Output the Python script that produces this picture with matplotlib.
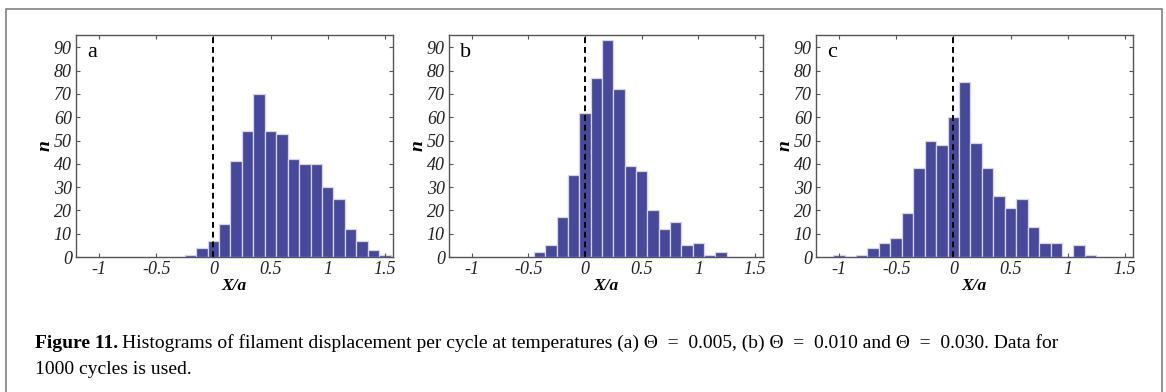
import numpy as np
import matplotlib
matplotlib.use("Agg")
import matplotlib.pyplot as plt
from matplotlib.patches import Rectangle

# bin centres (X/a) and counts
centres_a = [-0.2, -0.1, 0.0, 0.1, 0.2, 0.3, 0.4, 0.5, 0.6, 0.7, 0.8, 0.9,
             1.0, 1.1, 1.2, 1.3, 1.4, 1.5]
counts_a = [1, 4, 7, 14, 41, 54, 70, 54, 53, 42, 40, 40, 30, 25, 12, 7, 3, 1]

centres_b = [-0.4, -0.3, -0.2, -0.1, 0.0, 0.1, 0.2, 0.3, 0.4, 0.5, 0.6, 0.7,
             0.8, 0.9, 1.0, 1.1, 1.2]
counts_b = [2, 5, 17, 35, 62, 77, 93, 72, 39, 37, 20, 12, 15, 5, 6, 1, 2]

centres_c = [-1.0, -0.9, -0.8, -0.7, -0.6, -0.5, -0.4, -0.3, -0.2, -0.1, 0.0,
             0.1, 0.2, 0.3, 0.4, 0.5, 0.6, 0.7, 0.8, 0.9, 1.0, 1.1, 1.2]
counts_c = [1, 0, 1, 4, 6, 8, 19, 38, 50, 48, 60, 75, 49, 38, 26, 21, 25, 13,
            6, 6, 0, 5, 1]

labels = ["a", "b", "c"]
xticks = [-1, -0.5, 0, 0.5, 1, 1.5]
xticklabels = ["-1", "-0.5", "0", "0.5", "1", "1.5"]
yticks = [0, 10, 20, 30, 40, 50, 60, 70, 80, 90]

W, H = 1166, 392
fig = plt.figure(figsize=(W / 100, H / 100), dpi=100)
serif = "Liberation Serif"

# outer frame (bottom edge falls outside the crop)
fig.patches.append(Rectangle((6 / W, -0.05), (1162 - 6) / W, 1.05 - 9 / H,
                             transform=fig.transFigure, fill=False,
                             edgecolor="#8a8a8a", linewidth=1.3))

lefts = [76, 449, 816]
rights = [393, 763, 1133]
top, bottom = 35, 257
data = [(centres_a, counts_a), (centres_b, counts_b), (centres_c, counts_c)]

for i in range(3):
    ax = fig.add_axes([lefts[i] / W, 1 - bottom / H,
                       (rights[i] - lefts[i]) / W, (bottom - top) / H])
    c, n = data[i]
    ax.bar(c, n, width=0.1, color="#48489a", edgecolor="#d4d4f0",
           linewidth=0.9)
    ax.axvline(0, color="black", linestyle=(0, (3, 2)), linewidth=1.4)
    ax.set_xlim(-1.2, 1.57)
    ax.set_ylim(0, 95.3)
    ax.set_xticks(xticks)
    ax.set_xticklabels(xticklabels)
    ax.set_yticks(yticks)
    for s in ax.spines.values():
        s.set_color("#555555")
        s.set_linewidth(1.0)
    ax.tick_params(direction="in", length=3, width=0.8, color="#555555",
                   top=True, right=True, labelsize=13, pad=3)
    for t in ax.get_xticklabels() + ax.get_yticklabels():
        t.set_fontfamily(serif)
        t.set_fontstyle("italic")
        t.set_color("#222222")
    ax.set_xlabel("X/a", fontfamily=serif, fontstyle="italic",
                  fontweight="bold", fontsize=12.5, labelpad=0)
    ax.set_ylabel("n", fontfamily=serif, fontstyle="italic",
                  fontweight="bold", fontsize=14, labelpad=0)
    ax.text(0.035, 0.965, labels[i], transform=ax.transAxes, ha="left",
            va="top", fontfamily=serif, fontsize=16)

# caption: bold lead-in followed by regular text
renderer = fig.canvas.get_renderer()
cap1 = fig.text(35 / W, 1 - 343 / H, "Figure 11.", fontfamily=serif,
                fontweight="bold", fontsize=14, va="center", ha="left")
bb = cap1.get_window_extent(renderer)
fig.text((bb.x1 + 4) / W, 1 - 343 / H,
         "Histograms of filament displacement per cycle at temperatures "
         "(a) \u0398  =  0.005, (b) \u0398  =  0.010 and \u0398  =  0.030. "
         "Data for",
         fontfamily=serif, fontsize=14, va="center", ha="left")
fig.text(35 / W, 1 - 370 / H, "1000 cycles is used.", fontfamily=serif,
         fontsize=14, va="center", ha="left")

fig.savefig("out.png", dpi=100)
